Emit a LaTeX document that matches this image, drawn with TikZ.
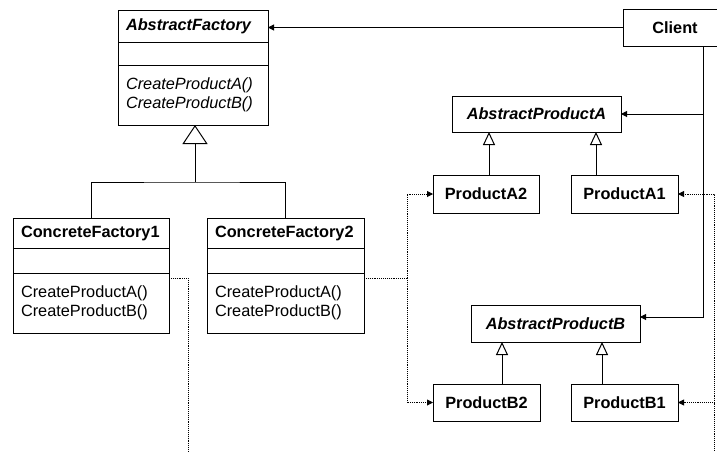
\documentclass[tikz,border=0pt]{standalone}
\usepackage{fontspec}
\setmainfont{Liberation Sans}
\usepackage{tikz}
\usetikzlibrary{arrows.meta}
\usetikzlibrary{positioning}
\newcommand{\umlfont}{\fontsize{16.3}{19}\selectfont}
\tikzset{part/.style={draw, line width=1pt, outer sep=0pt, inner xsep=8pt, inner ysep=0pt, align=left, font=\umlfont},
         prod/.style={draw, line width=1pt, outer sep=0pt, inner sep=0pt, font=\umlfont\bfseries},
         uses/.style={line width=1pt, -{Triangle[length=6pt,width=6pt]}},
         inherit/.style={line width=1pt, -{Triangle[open,length=13pt,width=12pt]}},
         creates/.style={line width=0.9pt, densely dotted, -{Triangle[length=6pt,width=6pt]}}}

\begin{document}
\begin{tikzpicture}[x=1pt, y=-1pt]
\clip (0,0) rectangle (717,451);
% factories
\node[part, text width=134pt, minimum height=32, font=\umlfont\bfseries\itshape] (af) at (193,26) {AbstractFactory};
\node[part, text width=134pt, minimum height=23, below=0pt of af] (af attr) {};
\node[part, text width=134pt, minimum height=60, below=0pt of af attr, font=\umlfont\itshape] (af ops) {CreateProductA()\\CreateProductB()};
\node[part, text width=140pt, minimum height=30, font=\umlfont\bfseries] (cf1) at (91,233) {ConcreteFactory1};
\node[part, text width=140pt, minimum height=25, below=0pt of cf1] (cf1 attr) {};
\node[part, text width=140pt, minimum height=60, below=0pt of cf1 attr] (cf1 ops) {CreateProductA()\\CreateProductB()};
\node[part, text width=141pt, minimum height=30, font=\umlfont\bfseries] (cf2) at (285.5,233) {ConcreteFactory2};
\node[part, text width=141pt, minimum height=25, below=0pt of cf2] (cf2 attr) {};
\node[part, text width=141pt, minimum height=60, below=0pt of cf2 attr] (cf2 ops) {CreateProductA()\\CreateProductB()};
% client and products
\node[prod, minimum width=104, minimum height=37] (client) at (675,27.5) {Client};
\node[prod, minimum width=169, minimum height=36, font=\umlfont\bfseries\itshape] (apa) at (536.5,114) {AbstractProductA};
\node[prod, minimum width=106, minimum height=38] (a2) at (486,194) {ProductA2};
\node[prod, minimum width=107, minimum height=38] (a1) at (624.5,194) {ProductA1};
\node[prod, minimum width=169, minimum height=37, font=\umlfont\bfseries\itshape] (apb) at (555.5,323.5) {AbstractProductB};
\node[prod, minimum width=107, minimum height=37] (b2) at (486.5,402.5) {ProductB2};
\node[prod, minimum width=107, minimum height=37] (b1) at (624.5,402.5) {ProductB1};
% generalization
\coordinate (split) at (195,182);
\draw[line width=1pt, -{Triangle[open,length=19pt,width=25pt]}] (split) -- (split |- af ops.south);
\draw[line width=1pt] (cf1.north) |- (split) -| (cf2.north);
\draw[inherit] ([xshift=3pt]a2.north) -- ([xshift=3pt]a2.north |- apa.south);
\draw[inherit] ([xshift=-28.5pt]a1.north) -- ([xshift=-28.5pt]a1.north |- apa.south);
\draw[inherit] ([xshift=15.5pt]b2.north) -- ([xshift=15.5pt]b2.north |- apb.south);
\draw[inherit] ([xshift=-22.5pt]b1.north) -- ([xshift=-22.5pt]b1.north |- apb.south);
% client uses
\draw[uses] (client.west) -- (client.west -| af.east);
\draw[uses] ([xshift=28pt]client.south) |- ([yshift=6.5pt]apb.east);
\draw[uses] ([xshift=28pt]client.south |- apa.east) -- (apa.east);
% creates
\draw[line width=0.9pt, densely dotted] ([yshift=-5pt]cf2 ops.north east) -- ++(43,0) coordinate (fan2);
\draw[creates] (fan2) |- (a2.west);
\draw[creates] (fan2) |- (b2.west);
\coordinate (fan1) at (188,460);
\coordinate (fan1 back) at (714,460);
\draw[line width=0.9pt, densely dotted] ([yshift=-5pt]cf1 ops.north east) -| (fan1);
\draw[creates] (fan1 back) |- (a1.east);
\draw[creates] (fan1 back) |- (b1.east);
\end{tikzpicture}
\end{document}
